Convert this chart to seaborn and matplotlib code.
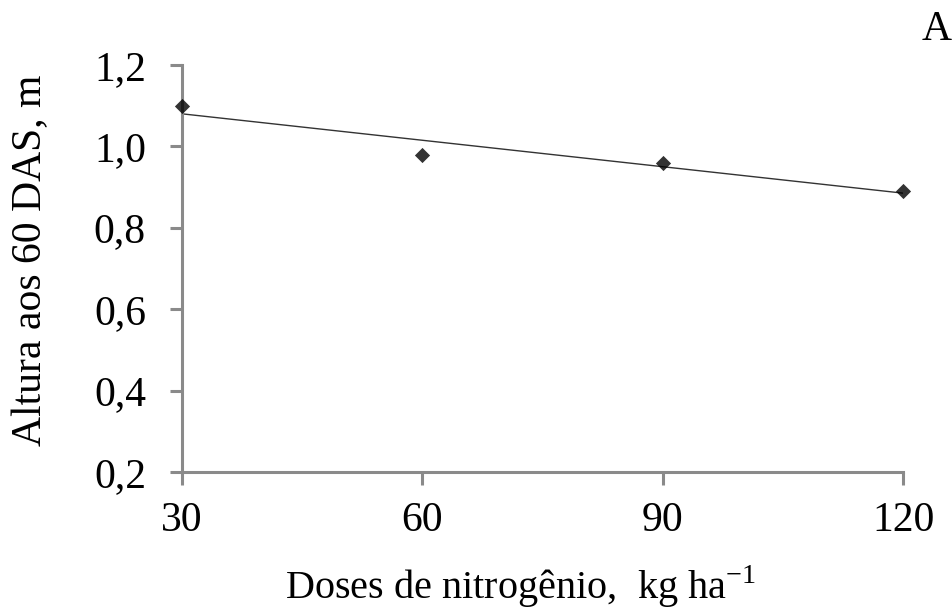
import matplotlib
matplotlib.use("Agg")
import matplotlib.pyplot as plt
import seaborn as sns
import pandas as pd

# Nitrogen doses (kg/ha) and plant height at 60 DAS (m)
doses = [30, 60, 90, 120]
altura = [1.10, 0.98, 0.96, 0.89]

x_ticks = [30, 60, 90, 120]
y_ticks = [0.2, 0.4, 0.6, 0.8, 1.0, 1.2]
y_tick_labels = ["0,2", "0,4", "0,6", "0,8", "1,0", "1,2"]

df = pd.DataFrame({"dose": doses, "altura": altura})

sns.set_theme(style="white")
plt.rcParams["font.family"] = ["Liberation Serif", "DejaVu Serif"]
plt.rcParams["mathtext.fontset"] = "custom"
plt.rcParams["mathtext.rm"] = "Liberation Serif"

fig = plt.figure(figsize=(9.53, 6.13), dpi=100)
ax = fig.add_axes([0.191, 0.230, 0.757, 0.664])

sns.regplot(data=df, x="dose", y="altura", ax=ax, ci=None, truncate=True,
            marker="D",
            scatter_kws={"s": 60, "color": "black", "zorder": 3, "linewidths": 0},
            line_kws={"color": "#333333", "linewidth": 1.0})

ax.set_xlim(30, 120)
ax.set_ylim(0.2, 1.2)
ax.set_xticks(x_ticks)
ax.set_xticklabels([str(v) for v in x_ticks])
ax.set_yticks(y_ticks)
ax.set_yticklabels(y_tick_labels)

spine_color = "#8a8a8a"
for side in ["top", "right"]:
    ax.spines[side].set_visible(False)
for side in ["left", "bottom"]:
    ax.spines[side].set_color(spine_color)
    ax.spines[side].set_linewidth(2.2)
    ax.spines[side].set_visible(True)

ax.tick_params(axis="both", which="major", direction="out", length=9, width=2.2,
               color=spine_color, labelsize=30, labelcolor="black")
ax.tick_params(axis="y", pad=17)
ax.tick_params(axis="x", pad=12)
ax.tick_params(left=True, bottom=True)

ax.set_xlabel(r"Doses de nitrogênio,  kg ha$^{\mathregular{-1}}$", fontsize=29,
              color="black")
ax.set_ylabel("Altura aos 60 DAS, m", fontsize=30, color="black")
ax.xaxis.set_label_coords(0.469, -0.225)
ax.yaxis.set_label_coords(-0.183, 0.521)
ax.grid(False)
for coll in ax.collections:
    coll.set_clip_on(False)

fig.text(0.999, 0.952, "A", fontsize=30, ha="right", va="center", color="black")

fig.savefig("out.png", dpi=100, facecolor="white")
